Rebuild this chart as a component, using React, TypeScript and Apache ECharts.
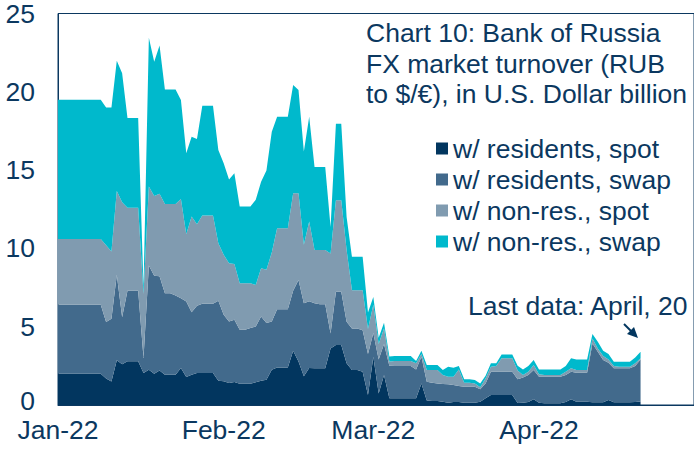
import React, { useEffect, useRef } from "react";
import * as echarts from "echarts";

// Daily values (USD bn), 1 Jan 2022 .. 20 Apr 2022 (weekends/holidays carried)
const residentsSpot = [
  2.0, 2.0, 2.0, 2.0, 2.0, 2.0, 2.0, 2.0, 2.0, 1.7,
  1.5, 2.85, 2.6, 2.8, 2.8, 2.8, 2.05, 2.25, 2.0, 2.2,
  1.93, 1.93, 1.93, 2.36, 1.79, 1.93, 2.04, 2.04, 2.04, 2.04,
  1.55, 1.51, 1.4, 1.47, 1.36, 1.36, 1.36, 1.45, 1.55, 1.62,
  2.25, 2.4, 2.4, 2.4, 3.47, 2.78, 1.83, 2.36, 2.34, 2.34,
  2.34, 3.61, 3.83, 3.83, 2.66, 2.23, 2.23, 2.13, 0.64, 3.08,
  0.74, 1.91, 0.43, 0.43, 0.43, 0.43, 0.43, 0.43, 1.38, 0.28,
  0.26, 0.26, 0.21, 0.15, 0.19, 0.19, 0.15, 0.15, 0.15, 0.21,
  0.43, 0.64, 0.64, 0.64, 0.64, 0.64, 0.13, 0.15, 0.19, 0.36,
  0.15, 0.11, 0.11, 0.11, 0.11, 0.19, 0.36, 0.21, 0.21, 0.21,
  0.17, 0.17, 0.17, 0.32, 0.17, 0.17, 0.17, 0.17, 0.19, 0.23,
];
const residentsSwap = [
  4.4, 4.4, 4.4, 4.4, 4.4, 4.4, 4.4, 4.4, 4.4, 3.6,
  4.0, 5.46, 3.0, 4.5, 4.5, 4.5, 0.95, 6.66, 6.25, 6.02,
  5.21, 5.21, 5.07, 4.46, 4.82, 4.0, 4.3, 4.42, 4.42, 4.42,
  5.1, 4.25, 3.94, 3.97, 3.44, 3.44, 3.55, 3.57, 4.1, 3.61,
  3.09, 3.72, 3.72, 3.72, 3.82, 5.21, 4.67, 4.26, 4.16, 4.1,
  4.1, 0.96, 3.4, 3.4, 2.65, 2.66, 2.66, 2.65, 2.61, 1.52,
  2.16, 1.99, 2.07, 2.06, 2.06, 2.06, 2.06, 1.84, 1.7, 1.21,
  1.16, 1.12, 1.13, 1.17, 1.09, 1.02, 1.02, 1.02, 1.02, 0.79,
  0.95, 1.49, 1.49, 1.49, 1.49, 1.49, 1.52, 1.61, 1.72, 1.87,
  1.66, 1.7, 1.7, 1.7, 1.7, 1.72, 1.77, 1.85, 1.85, 1.85,
  3.76, 3.23, 2.7, 2.38, 2.17, 2.17, 2.17, 2.17, 2.3, 2.68,
];
const nonResSpot = [
  4.2, 4.2, 4.2, 4.2, 4.2, 4.2, 4.2, 4.2, 4.2, 4.9,
  4.3, 5.36, 7.34, 5.3, 5.3, 5.3, 4.1, 5.04, 5.1, 5.27,
  5.7, 5.7, 5.84, 6.34, 4.3, 6.1, 5.2, 5.64, 5.64, 5.64,
  3.68, 3.83, 3.71, 3.56, 2.98, 2.98, 2.87, 2.65, 3.09, 3.4,
  4.4, 5.17, 5.17, 5.17, 6.23, 5.53, 3.73, 5.09, 3.39, 3.45,
  3.45, 5.1, 5.84, 5.84, 4.58, 2.44, 2.44, 2.55, 1.6, 1.8,
  1.0, 1.0, 0.28, 0.32, 0.32, 0.32, 0.32, 0.39, 0.17, 0.74,
  0.81, 0.85, 0.57, 0.49, 0.53, 1.06, 0.25, 0.25, 0.21, 0.13,
  0.32, 0.31, 0.36, 0.85, 0.85, 0.85, 0.55, 0.15, 0.22, 0.32,
  0.15, 0.1, 0.1, 0.1, 0.1, 0.22, 0.21, 0.17, 0.17, 0.17,
  0.32, 0.21, 0.26, 0.21, 0.15, 0.1, 0.1, 0.1, 0.17, 0.07,
];
const nonResSwap = [
  8.9, 8.9, 8.9, 8.9, 8.9, 8.9, 8.9, 8.9, 8.9, 8.8,
  9.2, 8.31, 8.24, 5.72, 5.72, 5.72, 0.4, 9.5, 8.57, 9.46,
  7.31, 7.31, 7.31, 6.31, 5.16, 5.1, 5.45, 7.01, 7.01, 7.01,
  5.95, 5.84, 5.35, 5.8, 4.89, 4.89, 4.89, 5.43, 5.52, 6.34,
  7.71, 7.12, 7.12, 7.12, 6.91, 6.59, 5.95, 6.69, 5.31, 5.31,
  5.31, 1.7, 4.89, 4.89, 2.11, 2.13, 2.13, 2.13, 1.05, 0.5,
  0.4, 0.35, 0.32, 0.32, 0.32, 0.32, 0.32, 0.15, 0.22, 0.32,
  0.32, 0.32, 0.32, 0.63, 0.57, 0.22, 0.22, 0.22, 0.21, 0.25,
  0.17, 0.22, 0.17, 0.25, 0.25, 0.25, 0.3, 0.36, 0.36, 0.32,
  0.31, 0.36, 0.36, 0.36, 0.36, 0.36, 0.64, 0.68, 0.68, 0.68,
  0.28, 0.43, 0.34, 0.34, 0.27, 0.32, 0.32, 0.32, 0.38, 0.42,
];

const seriesNames = [
  "w/ residents, spot",
  "w/ residents, swap",
  "w/ non-res., spot",
  "w/ non-res., swap",
];
const seriesColors = ["#02365f", "#426a8c", "#809bb0", "#00b9cc"];

// x axis: every calendar day from 1 Jan 2022 to 30 Apr 2022
const axisStart = "2022-01-01";
const axisDays = 120;
const monthTickLabels: Record<string, string> = {
  "2022-01-01": "Jan-22",
  "2022-02-01": "Feb-22",
  "2022-03-01": "Mar-22",
  "2022-04-01": "Apr-22",
};

const TEXT = "#0b3860";
const FONT = "'Liberation Sans', Arial, sans-serif";
const FS = 26.5;

function buildDays(): string[] {
  const out: string[] = [];
  const d0 = new Date(axisStart + "T00:00:00Z");
  for (let i = 0; i < axisDays; i++) {
    const d = new Date(d0.getTime() + i * 86400000);
    out.push(d.toISOString().slice(0, 10));
  }
  return out;
}

export default function App() {
  const ref = useRef<HTMLDivElement>(null);
  useEffect(() => {
    if (!ref.current) return;
    const chart = echarts.init(ref.current, null, { renderer: "svg" });
    const days = buildDays();
    const values = [residentsSpot, residentsSwap, nonResSpot, nonResSwap];
    chart.setOption({
      animation: false,
      textStyle: { fontFamily: FONT },
      title: {
        text: "Chart 10: Bank of Russia\nFX market turnover (RUB\nto $/€), in U.S. Dollar billion",
        left: 366,
        top: 18,
        padding: 0,
        textStyle: {
          fontSize: FS,
          lineHeight: 30.5,
          fontWeight: "normal",
          color: TEXT,
          fontFamily: FONT,
        },
      },
      legend: {
        orient: "vertical",
        left: 436,
        top: 135,
        padding: 0,
        itemWidth: 12,
        itemHeight: 12,
        itemGap: 4,
        icon: "rect",
        data: seriesNames,
        textStyle: { fontSize: FS, lineHeight: 26, color: TEXT, fontFamily: FONT },
      },
      grid: {
        left: 58,
        right: -2,
        top: 13,
        bottom: 45,
        show: true,
        borderColor: "#0b3860",
        borderWidth: 1,
        backgroundColor: "transparent",
      },
      xAxis: {
        type: "category",
        data: days,
        boundaryGap: false,
        axisLine: { show: true, lineStyle: { color: "#0b3860", width: 1 } },
        axisTick: { show: false },
        splitLine: { show: false },
        axisLabel: {
          interval: (_i: number, v: string) => v in monthTickLabels,
          formatter: (v: string) => monthTickLabels[v] || "",
          fontSize: FS,
          lineHeight: 24,
          color: TEXT,
          fontFamily: FONT,
          margin: 13,
          showMinLabel: true,
          hideOverlap: false,
        },
      },
      yAxis: {
        type: "value",
        min: 0,
        max: 25,
        interval: 5,
        axisLine: { show: true, lineStyle: { color: "#0b3860", width: 1 } },
        axisTick: { show: false },
        splitLine: { show: false },
        axisLabel: {
          fontSize: FS,
          lineHeight: 18,
          color: TEXT,
          fontFamily: FONT,
          margin: 23,
          formatter: (v: number) => (v === 0 ? "{z|0}" : String(v)),
          rich: {
            z: {
              fontSize: FS,
              lineHeight: 18,
              color: TEXT,
              fontFamily: FONT,
              padding: [0, 0, 8, 0],
            },
          },
        },
      },
      series: values.map((v, i) => ({
        name: seriesNames[i],
        type: "line",
        stack: "turnover",
        data: v,
        symbol: "none",
        showSymbol: false,
        lineStyle: { width: 0 },
        itemStyle: { color: seriesColors[i] },
        areaStyle: { color: seriesColors[i], opacity: 1 },
        z: 2,
      })),
      graphic: [
        {
          type: "text",
          left: 468,
          top: 292,
          style: {
            text: "Last data: April, 20",
            fill: TEXT,
            font: FS + "px " + FONT,
          },
        },
        {
          type: "line",
          shape: { x1: 624, y1: 324, x2: 632, y2: 332 },
          style: { stroke: "#02365f", lineWidth: 2 },
        },
        {
          type: "polygon",
          shape: { points: [[638, 338], [627, 334], [634, 327]] },
          style: { fill: "#02365f" },
        },
      ],
    });
    return () => chart.dispose();
  }, []);
  return (
    <div
      ref={ref}
      style={{ position: "absolute", left: 0, top: 0, width: 694, height: 450 }}
    />
  );
}
